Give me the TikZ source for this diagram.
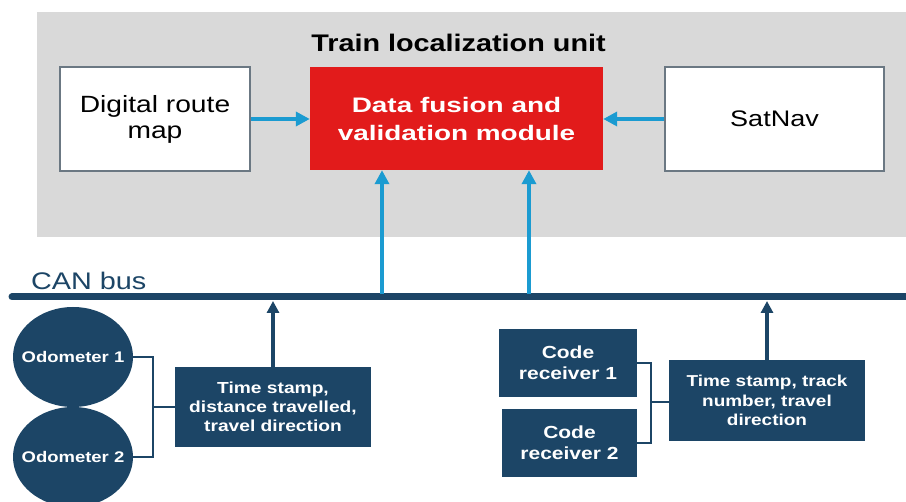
\documentclass[tikz,border=0pt]{standalone}
\usepackage{fontspec}
\setmainfont[FakeStretch=1.2]{Liberation Sans}
\newfontfamily\widefont[FakeStretch=1.33]{Liberation Sans}
\usetikzlibrary{arrows.meta,shapes.geometric}
\definecolor{dblue}{HTML}{1C4566}
\definecolor{lblue}{HTML}{1B9BD1}
\definecolor{bgray}{HTML}{D9D9D9}
\definecolor{edgegray}{HTML}{6B7883}
\definecolor{fred}{HTML}{E21B1B}
\tikzset{
  whitebox/.style={draw=edgegray, line width=2.5pt, fill=white, inner sep=0pt, font=\fontsize{23.5}{26}\selectfont, align=center},
  redbox/.style={fill=fred, inner sep=0pt, text=white, font=\widefont\bfseries\fontsize{21}{28}\selectfont, align=center},
  darkbox/.style={fill=dblue, inner sep=0pt, text=white, font=\bfseries\fontsize{16}{19}\selectfont, align=center},
  odo/.style={ellipse, fill=dblue, inner ysep=0pt, inner xsep=-30pt, text=white, font=\bfseries\fontsize{15.4}{18}\selectfont},
  bluearrow/.style={draw=lblue, line width=4.5pt, -{Triangle[length=14pt,width=14pt]}},
  darkarrow/.style={draw=dblue, line width=4pt, -{Triangle[length=12pt,width=12pt]}},
  bracket/.style={draw=dblue, line width=2.5pt},
}
\begin{document}
\begin{tikzpicture}[x=1pt,y=-1pt]
\useasboundingbox (0,0) rectangle (906,502);
% gray unit
\fill[bgray] (37,12) rectangle (906,237);
\node[font=\bfseries\fontsize{24}{28}\selectfont, anchor=base] (title) at (458.5,52) {Train localization unit};
% top boxes
\node[whitebox, minimum width=190pt, minimum height=104pt] (map) at (155,119) {Digital route\\map};
\node[redbox, minimum width=293pt, minimum height=103pt] (fusion) at (456.5,118.5) {Data fusion and\\validation module};
\node[whitebox, font=\fontsize{22.5}{26}\selectfont, minimum width=219pt, minimum height=104pt] (sat) at (774.5,119) {SatNav};
\draw[bluearrow] (map.east) -- (fusion.west |- map.east);
\draw[bluearrow] (sat.west) -- (fusion.east |- sat.west);
% CAN bus
\coordinate (busL) at (12,297);
\coordinate (busR) at (906,297);
\draw[dblue, line width=7pt, line cap=round] (busL) -- (busR);
\node[text=dblue, font=\fontsize{24}{28}\selectfont, anchor=base west, inner sep=0pt] (can) at (31,290) {CAN bus};
\coordinate (b1) at (382,294);
\coordinate (b2) at (529,294);
\draw[bluearrow] (b1) -- (b1 |- fusion.south);
\draw[bluearrow] (b2) -- (b2 |- fusion.south);
% odometers
\node[odo, minimum width=120pt, minimum height=100pt] (odo1) at (73,357) {Odometer 1};
\node[odo, minimum width=120pt, minimum height=100pt] (odo2) at (73,457) {Odometer 2};
\node[darkbox, minimum width=196pt, minimum height=80pt] (info1) at (273,407) {Time stamp,\\distance travelled,\\travel direction};
\coordinate (j1) at (153,407);
\draw[bracket] (odo1.east) -| (j1) |- (odo2.east);
\draw[bracket] (j1) -- (info1.west);
\coordinate (t1) at (273,301);
\draw[darkarrow] (info1.north) -- (t1);
% code receivers
\node[darkbox, font=\bfseries\fontsize{17.5}{20.7}\selectfont, minimum width=138pt, minimum height=68pt] (cr1) at (568,363) {Code\\receiver 1};
\node[darkbox, font=\bfseries\fontsize{17.5}{20.7}\selectfont, minimum width=135pt, minimum height=68pt] (cr2) at (569.5,443) {Code\\receiver 2};
\node[darkbox, font=\bfseries\fontsize{15.8}{19.5}\selectfont, minimum width=196pt, minimum height=81pt] (info2) at (767,400.5) {Time stamp, track\\number, travel\\direction};
\coordinate (j2) at (651,402);
\draw[bracket] (cr1.east) -| (j2) |- (cr2.east);
\draw[bracket] (j2) -- (info2.west |- j2);
\coordinate (t2) at (767,301);
\draw[darkarrow] (info2.north) -- (t2);
\end{tikzpicture}
\end{document}
